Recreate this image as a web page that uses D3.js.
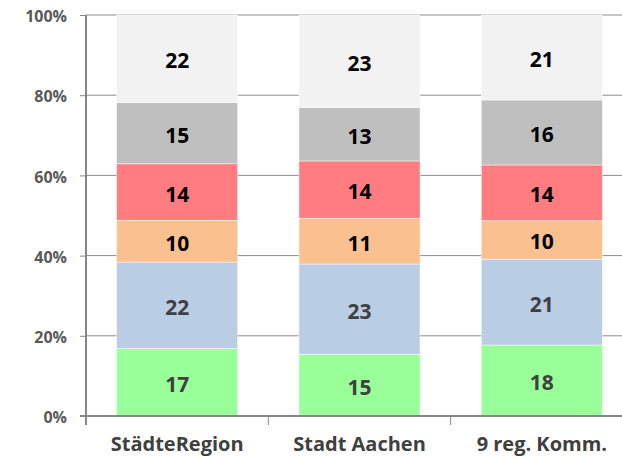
<!DOCTYPE html>
<html>
<head>
<meta charset="utf-8">
<script src="https://cdn.jsdelivr.net/npm/d3@7"></script>
<style>
  html, body { margin: 0; padding: 0; background: #fff; }
  svg { display: block; }
</style>
</head>
<body>
<svg id="chart" width="622" height="459"></svg>
<script>
// ---- data ----
const categories = ["StädteRegion", "Stadt Aachen", "9 reg. Komm."];
const seriesNames = ["s1", "s2", "s3", "s4", "s5", "s6"];
const s1 = [16.8, 15.4, 17.7];
const s2 = [21.6, 22.5, 21.4];
const s3 = [10.4, 11.4, 9.6];
const s4 = [14.1, 14.3, 13.9];
const s5 = [15.3, 13.3, 16.2];
const s6 = [21.8, 23.1, 21.2];
const labels1 = [17, 15, 18];
const labels2 = [22, 23, 21];
const labels3 = [10, 11, 10];
const labels4 = [14, 14, 14];
const labels5 = [15, 13, 16];
const labels6 = [22, 23, 21];
const yTicks = [0, 20, 40, 60, 80, 100];

const seriesValues = [s1, s2, s3, s4, s5, s6];
const seriesLabels = [labels1, labels2, labels3, labels4, labels5, labels6];
const colors = ["#99FF99", "#B9CDE5", "#FAC090", "#FF7C80", "#BFBFBF", "#F2F2F2"];
const labelColors = ["#404040", "#404040", "#000000", "#000000", "#000000", "#000000"];

// table for d3.stack
const table = categories.map((c, i) => {
  const row = { cat: c };
  seriesNames.forEach((s, j) => { row[s] = seriesValues[j][i]; });
  return row;
});
const stacked = d3.stack().keys(seriesNames)(table);

const svg = d3.select("#chart");
const mLeft = 86, mRight = 633, mTop = 15, mBottom = 416;

const x = d3.scaleBand().domain(categories).range([mLeft, mRight])
  .paddingInner(0.336).paddingOuter(0.168);
const y = d3.scaleLinear().domain([0, 100]).range([mBottom, mTop]);

const font = "'Open Sans', 'DejaVu Sans', sans-serif";

// gridlines
svg.append("g").selectAll("line").data(yTicks.filter(d => d > 0)).join("line")
  .attr("x1", mLeft).attr("x2", mRight)
  .attr("y1", d => y(d)).attr("y2", d => y(d))
  .attr("stroke", "#8c8c8c").attr("stroke-width", 1);

// bars
const layer = svg.append("g").selectAll("g").data(stacked).join("g")
  .attr("fill", (d, i) => colors[i]);
layer.selectAll("rect").data(d => d).join("rect")
  .attr("x", d => x(d.data.cat))
  .attr("width", x.bandwidth())
  .attr("y", d => y(d[1]))
  .attr("height", d => y(d[0]) - y(d[1]))
  .attr("stroke", "rgba(255,255,255,0.6)")
  .attr("stroke-width", 0.8);

// data labels
stacked.forEach((ser, j) => {
  svg.append("g").selectAll("text").data(ser).join("text")
    .attr("x", d => x(d.data.cat) + x.bandwidth() / 2)
    .attr("y", d => (y(d[0]) + y(d[1])) / 2 + 9.5)
    .attr("text-anchor", "middle")
    .attr("font-family", font)
    .attr("font-weight", "bold")
    .attr("font-size", "21px")
    .attr("fill", labelColors[j])
    .text((d, i) => seriesLabels[j][i]);
});

// y axis
const yAxis = d3.axisLeft(y).tickValues(yTicks).tickSize(6).tickPadding(13)
  .tickFormat(d => d + "%");
const gy = svg.append("g").attr("transform", `translate(${mLeft},0)`).call(yAxis);
gy.select(".domain").attr("stroke", "#868686").attr("stroke-width", 2)
  .attr("d", `M0,${mTop}V${mBottom + 9}`);
gy.selectAll(".tick line").attr("stroke", "#868686").attr("stroke-width", 1);
gy.selectAll(".tick text")
  .attr("font-family", font).attr("font-weight", "bold").attr("font-size", "16px")
  .attr("fill", "#595959").attr("dy", "0.42em");

// x axis
const gx = svg.append("g").attr("transform", `translate(0,${mBottom})`);
gx.append("line").attr("x1", mLeft - 6).attr("x2", mRight).attr("y1", 0).attr("y2", 0)
  .attr("stroke", "#868686").attr("stroke-width", 2);
const boundaries = categories.map(c => x(c) - x.step() * x.paddingInner() / 2).concat([mRight]);
boundaries[0] = mLeft;
gx.selectAll("line.tk").data(boundaries).join("line").attr("class", "tk")
  .attr("x1", d => d).attr("x2", d => d).attr("y1", 0).attr("y2", 9)
  .attr("stroke", "#868686").attr("stroke-width", 1);
gx.selectAll("text").data(categories).join("text")
  .attr("x", d => x(d) + x.bandwidth() / 2)
  .attr("y", 35)
  .attr("text-anchor", "middle")
  .attr("font-family", font).attr("font-weight", "bold").attr("font-size", "20px")
  .attr("fill", "#404040")
  .text(d => d);
</script>
</body>
</html>
